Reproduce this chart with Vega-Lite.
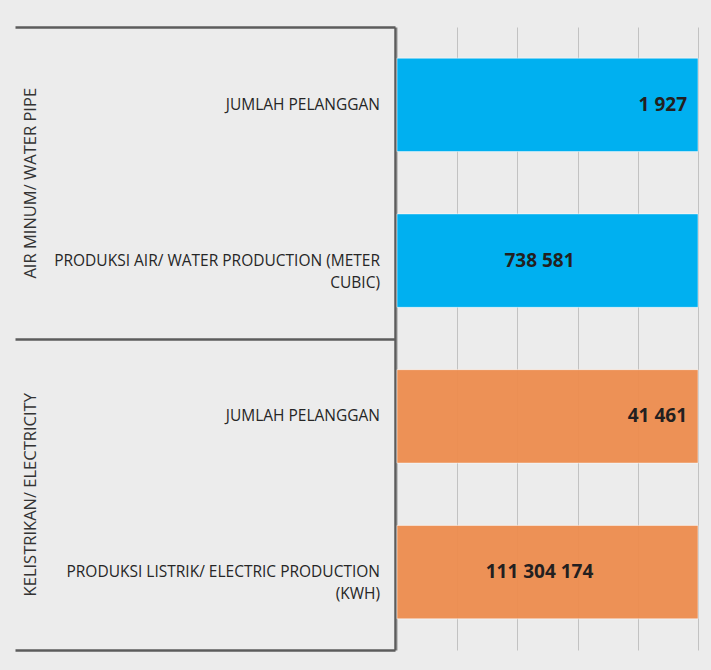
{
  "$schema": "https://vega.github.io/schema/vega-lite/v6.json",
  "width": 301,
  "height": 623,
  "autosize": {"type": "none"},
  "padding": {"left": 397, "top": 27, "right": 13, "bottom": 20},
  "background": "#ececec",
  "config": {
    "view": {"stroke": null},
    "font": "Open Sans",
    "locale": {"number": {"decimal": ",", "thousands": " ", "grouping": [3], "currency": ["Rp", ""]}}
  },
  "data": {
    "values": [
      {"group": "AIR MINUM/ WATER PIPE", "jenis": "Pelanggan", "indikator": "JUMLAH PELANGGAN", "value": 1927},
      {"group": "AIR MINUM/ WATER PIPE", "jenis": "Produksi", "indikator": "PRODUKSI AIR/ WATER PRODUCTION (METER\nCUBIC)", "value": 738581},
      {"group": "KELISTRIKAN/ ELECTRICITY", "jenis": "Pelanggan", "indikator": "JUMLAH PELANGGAN", "value": 41461},
      {"group": "KELISTRIKAN/ ELECTRICITY", "jenis": "Produksi", "indikator": "PRODUKSI LISTRIK/ ELECTRIC PRODUCTION\n(KWH)", "value": 111304174}
    ]
  },
  "encoding": {
    "y": {
      "field": "group",
      "type": "nominal",
      "sort": ["AIR MINUM/ WATER PIPE", "KELISTRIKAN/ ELECTRICITY"],
      "scale": {"paddingInner": 0, "paddingOuter": 0},
      "axis": {
        "title": null,
        "orient": "left",
        "offset": 2,
        "domain": true,
        "domainColor": "#5c5c5c",
        "domainWidth": 2.5,
        "ticks": true,
        "tickBand": "extent",
        "tickSize": 380,
        "tickColor": "#5c5c5c",
        "tickWidth": 2.5,
        "labelAngle": 270,
        "labelAlign": "center",
        "labelBaseline": "middle",
        "labelPadding": -15,
        "labelFont": "Open Sans",
        "labelFontSize": 16.5,
        "labelColor": "#333333",
        "labelLimit": 0,
        "labelOverlap": false,
        "labelBound": false,
        "grid": false
      }
    },
    "yOffset": {
      "field": "jenis",
      "type": "nominal",
      "sort": ["Pelanggan", "Produksi"],
      "scale": {"paddingInner": 0.4, "paddingOuter": 0.2}
    }
  },
  "layer": [
    {
      "mark": {"type": "bar", "stroke": "#ffffff", "strokeWidth": 1, "strokeOpacity": 0.5},
      "encoding": {
        "x": {
          "field": "value",
          "type": "quantitative",
          "stack": "normalize",
          "scale": {"domain": [0, 1]},
          "axis": {
            "title": null,
            "labels": false,
            "ticks": false,
            "domain": false,
            "grid": true,
            "gridColor": "#c2c2c2",
            "gridWidth": 1,
            "values": [0, 0.2, 0.4, 0.6, 0.8, 1]
          }
        },
        "color": {
          "field": "group",
          "type": "nominal",
          "scale": {"domain": ["AIR MINUM/ WATER PIPE", "KELISTRIKAN/ ELECTRICITY"], "range": ["#00b0f0", "#ed8b4c"]},
          "legend": null
        },
        "fillOpacity": {
          "field": "group",
          "type": "nominal",
          "scale": {"domain": ["AIR MINUM/ WATER PIPE", "KELISTRIKAN/ ELECTRICITY"], "range": [1, 0.94]},
          "legend": null
        }
      }
    },
    {
      "mark": {"type": "text", "align": "right", "baseline": "middle", "dx": -17, "fontSize": 15.5, "color": "#262626", "lineBreak": "\n", "lineHeight": 22, "font": "Open Sans"},
      "encoding": {
        "x": {"datum": 0, "type": "quantitative"},
        "text": {"field": "indikator", "type": "nominal"}
      }
    },
    {
      "transform": [{"filter": "datum.jenis === 'Pelanggan'"}],
      "mark": {"type": "text", "align": "right", "baseline": "middle", "dx": -11, "fontSize": 19, "fontWeight": "bold", "color": "#231f20", "font": "Open Sans"},
      "encoding": {
        "x": {"datum": 1, "type": "quantitative"},
        "text": {"field": "value", "type": "quantitative", "format": ",d"}
      }
    },
    {
      "transform": [{"filter": "datum.jenis === 'Produksi'"}],
      "mark": {"type": "text", "align": "center", "baseline": "middle", "dx": -8, "fontSize": 19, "fontWeight": "bold", "color": "#231f20", "font": "Open Sans"},
      "encoding": {
        "x": {"datum": 0.5, "type": "quantitative"},
        "text": {"field": "value", "type": "quantitative", "format": ",d"}
      }
    }
  ]
}
